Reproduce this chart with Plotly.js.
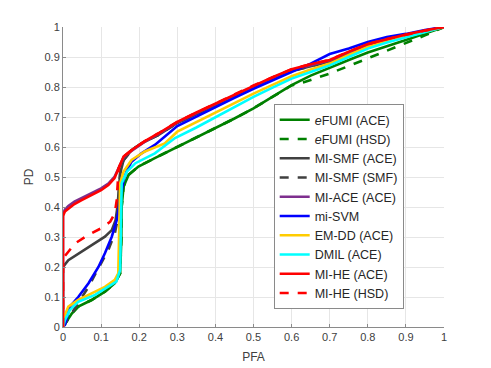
<!DOCTYPE html>
<html><head><meta charset="utf-8">
<script src="https://cdn.plot.ly/plotly-3.0.1.min.js"></script>
<style>body{margin:0;background:#fff}#chart{width:491px;height:368px}</style>
</head><body><div id="chart"></div>
<script>
// eFUMI (ACE)
var efumiAceX = [0,0.01,0.023,0.04,0.075,0.11,0.136,0.15,0.153,0.154,0.159,0.172,0.198,0.241,0.302,0.35,0.4,0.45,0.5,0.55,0.6,0.65,0.7,0.75,0.8,0.85,0.9,0.95,1];
var efumiAceY = [0,0.02,0.045,0.068,0.09,0.118,0.146,0.179,0.29,0.401,0.468,0.507,0.535,0.563,0.601,0.632,0.662,0.695,0.729,0.768,0.806,0.838,0.865,0.89,0.915,0.937,0.957,0.978,1];
// eFUMI (HSD)
var efumiHsdX = [0,0.01,0.023,0.04,0.075,0.11,0.136,0.15,0.153,0.154,0.159,0.172,0.198,0.241,0.302,0.35,0.4,0.45,0.5,0.55,0.6,0.63,0.7,0.75,0.8,0.85,0.9,0.95,1];
var efumiHsdY = [0,0.02,0.045,0.068,0.09,0.118,0.146,0.179,0.29,0.401,0.468,0.507,0.535,0.563,0.601,0.632,0.662,0.695,0.729,0.768,0.805,0.815,0.845,0.87,0.895,0.92,0.945,0.972,1];
// MI-SMF (ACE)
var smfAceX = [0,0,0.014,0.049,0.084,0.11,0.128,0.138,0.143,0.147,0.15,0.159,0.18,0.21,0.25,0.3,0.35,0.4,0.45,0.5,0.55,0.6,0.65,0.7,0.75,0.8,0.85,0.9,0.95,1];
var smfAceY = [0,0.2,0.223,0.251,0.279,0.301,0.323,0.356,0.401,0.456,0.512,0.556,0.59,0.615,0.64,0.68,0.71,0.74,0.77,0.8,0.828,0.853,0.87,0.885,0.912,0.937,0.955,0.972,0.986,1];
// MI-SMF (SMF)
var smfSmfX = [0,0.01,0.023,0.04,0.067,0.093,0.119,0.136,0.145,0.147,0.15,0.159,0.18,0.21,0.25,0.3,0.35,0.4,0.45,0.5,0.55,0.6,0.65,0.7,0.75,0.8,0.85,0.9,0.95,1];
var smfSmfY = [0,0.02,0.045,0.079,0.134,0.196,0.257,0.312,0.368,0.456,0.512,0.556,0.59,0.615,0.64,0.68,0.71,0.74,0.77,0.8,0.828,0.853,0.87,0.885,0.912,0.937,0.955,0.972,0.986,1];
// MI-ACE (ACE)
var miAceX = [0,0,0.005,0.014,0.03,0.049,0.075,0.1,0.119,0.135,0.146,0.159,0.175,0.19,0.215,0.25,0.3,0.35,0.4,0.45,0.5,0.55,0.6,0.65,0.7,0.75,0.8,0.85,0.9,0.95,1];
var miAceY = [0,0.375,0.392,0.403,0.418,0.43,0.447,0.462,0.478,0.5,0.53,0.566,0.583,0.596,0.618,0.643,0.682,0.713,0.743,0.773,0.803,0.831,0.857,0.873,0.888,0.916,0.941,0.958,0.974,0.987,1];
// mi-SVM
var svmX = [0,0.005,0.018,0.04,0.067,0.093,0.11,0.128,0.141,0.15,0.159,0.168,0.18,0.206,0.241,0.3,0.35,0.4,0.45,0.5,0.55,0.6,0.65,0.7,0.75,0.8,0.85,0.9,0.95,1];
var svmY = [0,0.007,0.068,0.1,0.146,0.2,0.246,0.301,0.356,0.423,0.49,0.523,0.551,0.579,0.607,0.67,0.702,0.734,0.764,0.794,0.822,0.85,0.878,0.91,0.928,0.95,0.967,0.977,0.99,1];
// EM-DD (ACE)
var emddX = [0,0.003,0.014,0.04,0.075,0.11,0.136,0.145,0.147,0.148,0.15,0.159,0.18,0.215,0.267,0.3,0.35,0.4,0.45,0.5,0.55,0.6,0.65,0.7,0.75,0.8,0.85,0.9,0.95,1];
var emddY = [0,0.034,0.068,0.09,0.112,0.134,0.157,0.179,0.29,0.401,0.479,0.518,0.557,0.585,0.612,0.651,0.683,0.714,0.746,0.778,0.807,0.836,0.858,0.878,0.907,0.933,0.952,0.968,0.985,1];
// DMIL (ACE)
var dmilX = [0,0.005,0.018,0.04,0.084,0.119,0.14,0.15,0.152,0.154,0.168,0.19,0.241,0.294,0.35,0.4,0.45,0.5,0.55,0.6,0.65,0.7,0.75,0.8,0.85,0.9,0.95,1];
var dmilY = [0,0.023,0.057,0.084,0.107,0.134,0.151,0.19,0.401,0.479,0.518,0.546,0.579,0.63,0.665,0.699,0.733,0.767,0.798,0.828,0.85,0.872,0.9,0.928,0.948,0.965,0.983,1];
// MI-HE (ACE)
var heAceX = [0,0,0.005,0.014,0.03,0.049,0.075,0.1,0.119,0.135,0.146,0.159,0.175,0.19,0.215,0.25,0.3,0.35,0.4,0.45,0.5,0.55,0.6,0.65,0.7,0.75,0.8,0.85,0.9,0.95,1];
var heAceY = [0,0.37,0.385,0.395,0.41,0.423,0.44,0.456,0.473,0.496,0.529,0.568,0.585,0.598,0.62,0.645,0.684,0.715,0.745,0.775,0.805,0.833,0.859,0.876,0.89,0.918,0.943,0.96,0.975,0.988,1];
// MI-HE (HSD)
var heHsdX = [0,0,0.014,0.032,0.067,0.1,0.124,0.136,0.141,0.143,0.146,0.159,0.175,0.19,0.215,0.25,0.3,0.35,0.4,0.45,0.5,0.55,0.6,0.65,0.7,0.75,0.8,0.85,0.9,0.95,1];
var heHsdY = [0,0.229,0.251,0.279,0.307,0.329,0.351,0.379,0.423,0.456,0.529,0.568,0.585,0.598,0.62,0.645,0.684,0.715,0.745,0.775,0.805,0.833,0.859,0.876,0.89,0.918,0.943,0.96,0.975,0.988,1];

var names = ['<i>e</i>FUMI (ACE)','<i>e</i>FUMI (HSD)','MI-SMF (ACE)','MI-SMF (SMF)','MI-ACE (ACE)','mi-SVM','EM-DD (ACE)','DMIL (ACE)','MI-HE (ACE)','MI-HE (HSD)'];
var xs = [efumiAceX,efumiHsdX,smfAceX,smfSmfX,miAceX,svmX,emddX,dmilX,heAceX,heHsdX];
var ys = [efumiAceY,efumiHsdY,smfAceY,smfSmfY,miAceY,svmY,emddY,dmilY,heAceY,heHsdY];
var colors = ['#008000','#008000','#404040','#404040','#7e2f8e','#0000ff','#ffcc00','#00ffff','#ff0000','#ff0000'];
var dashes = ['solid','dash','solid','dash','solid','solid','solid','solid','solid','dash'];

var traces = names.map(function(n,i){
  return {x: xs[i], y: ys[i], name: n, type: 'scatter', mode: 'lines',
    line: {color: colors[i], width: 2.6, dash: dashes[i]}};
});

var fam = 'Liberation Sans, Arial, sans-serif';
var ax = {
  range: [0,1], dtick: 0.1, tick0: 0, tickangle: 0,
  showgrid: true, gridcolor: '#e6e6e6', gridwidth: 1,
  showline: true, linecolor: '#8a8a8a', linewidth: 1,
  zeroline: false, ticks: 'inside', ticklen: 3, tickcolor: '#8a8a8a',
  tickfont: {family: fam, size: 11, color: '#404040'},
  fixedrange: true
};
var layout = {
  width: 491, height: 368,
  margin: {l: 63, r: 46.5, t: 27, b: 41},
  paper_bgcolor: '#fff', plot_bgcolor: '#fff',
  showlegend: true,
  xaxis: Object.assign({}, ax, {title: {text: 'PFA', standoff: 10, font: {family: fam, size: 12, color: '#404040'}}}),
  yaxis: Object.assign({}, ax, {title: {text: 'PD', standoff: 8, font: {family: fam, size: 12, color: '#404040'}}}),
  legend: {x: 0.553, y: 0.743, xanchor: 'left', yanchor: 'top',
    bgcolor: '#fff', bordercolor: '#8a8a8a', borderwidth: 1,
    font: {family: fam, size: 12.5, color: '#262626'},
    tracegroupgap: 0}
};
Plotly.newPlot('chart', traces, layout, {displayModeBar: false, staticPlot: true});
</script>
</body></html>
